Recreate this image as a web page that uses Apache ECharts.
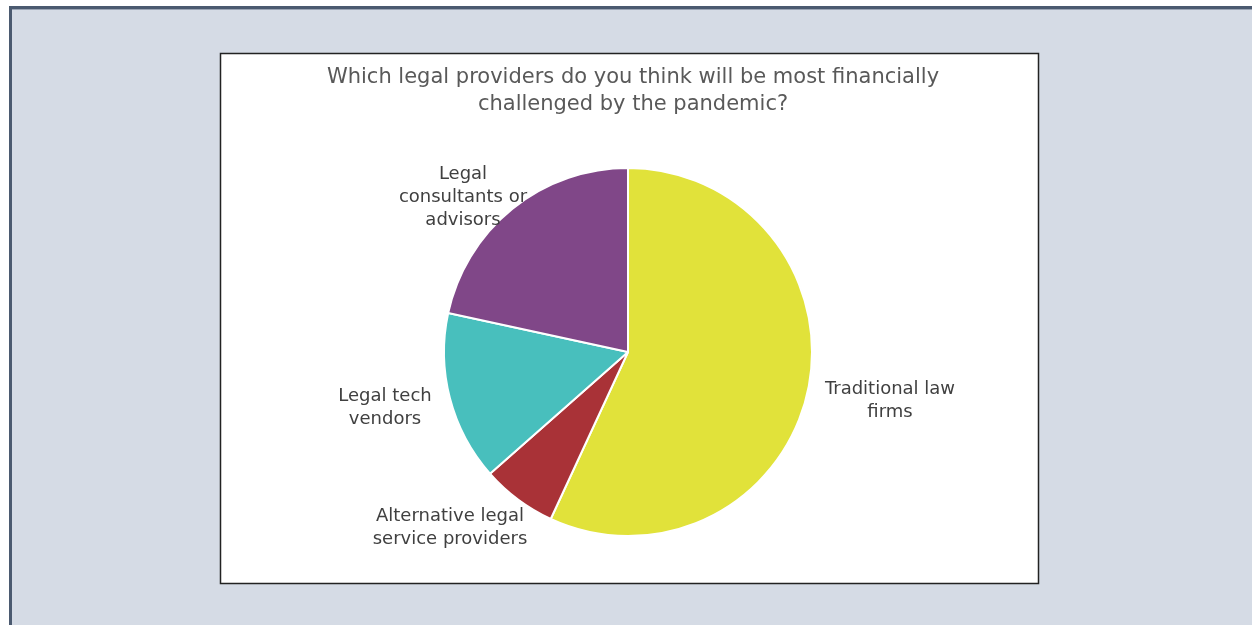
<!DOCTYPE html>
<html>
<head>
<meta charset="utf-8">
<script src="https://cdn.jsdelivr.net/npm/echarts@6/dist/echarts.min.js"></script>
<style>
html,body{margin:0;padding:0;width:1252px;height:625px;overflow:hidden;background:#fff;}
#c{width:1252px;height:625px;}
</style>
</head>
<body>
<div id="c"></div>
<script>
const titleText = 'Which legal providers do you think will be most financially\nchallenged by the pandemic?';
const categories = ['Traditional law\nfirms', 'Alternative legal\nservice providers', 'Legal tech\nvendors', 'Legal\nconsultants or\nadvisors'];
const values = [56.9, 6.6, 14.9, 21.6];
const colors = ['#e1e23a', '#a93237', '#48bfbd', '#804788'];

const labelPos = [[890, 401], [450, 528], [385, 408], [463, 197]];

const chart = echarts.init(document.getElementById('c'), null, {renderer: 'canvas'});
const font = '"DejaVu Sans", Lato, sans-serif';
chart.setOption({
  animation: false,
  graphic: [
    {type: 'rect', shape: {x: 9, y: 6, width: 1243, height: 619}, style: {fill: '#d5dbe5'}, z: -10},
    {type: 'rect', shape: {x: 9, y: 6, width: 1243, height: 3}, style: {fill: '#4b5a70'}, z: -9},
    {type: 'rect', shape: {x: 9, y: 9, width: 1243, height: 1}, style: {fill: '#9aa4b4'}, z: -9},
    {type: 'rect', shape: {x: 9, y: 6, width: 3, height: 619}, style: {fill: '#4b5a70'}, z: -9},
    {type: 'rect', shape: {x: 220.5, y: 53.5, width: 818, height: 530}, style: {fill: '#ffffff', stroke: '#222', lineWidth: 1.5}, z: -8}
  ],
  title: {
    text: titleText,
    left: 628, top: 59, textAlign: 'center',
    textStyle: {fontFamily: font, fontSize: 21, fontWeight: 'normal', color: '#595959', lineHeight: 27}
  },
  series: [{
    type: 'pie',
    center: [628, 352],
    radius: 184,
    startAngle: 90,
    clockwise: true,
    data: categories.map((c, i) => ({name: c, value: values[i], itemStyle: {color: colors[i]}})),
    itemStyle: {borderColor: '#ffffff', borderWidth: 2},
    label: {
      show: true, position: 'outside', formatter: '{b}',
      fontFamily: font, fontSize: 18, color: '#404040', lineHeight: 23, align: 'center'
    },
    labelLine: {show: false},
    labelLayout: function (p) {
      const pos = labelPos[p.dataIndex];
      return {x: pos[0], y: pos[1], align: 'center', verticalAlign: 'middle'};
    },
    emphasis: {disabled: true}
  }]
});
</script>
</body>
</html>
